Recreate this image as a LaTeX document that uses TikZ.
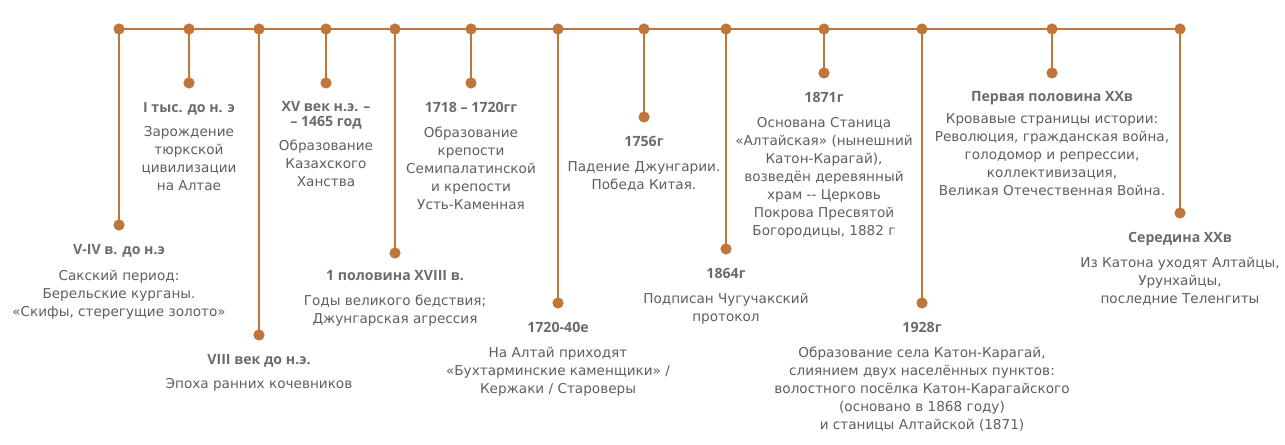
\documentclass[tikz,border=0pt]{standalone}
\usepackage{fontspec}
\setmainfont{DejaVu Sans}
\newfontfamily\titlefont{Open Sans}
\usepackage{tikz}
\usetikzlibrary{positioning}

\definecolor{linebrown}{HTML}{C0763A}
\definecolor{titlegray}{HTML}{6B6B6B}
\definecolor{bodygray}{HTML}{5E5E5E}

\begin{document}
\begin{tikzpicture}[
        x=0.75pt, y=-0.75pt,
        dot/.style={circle, fill=linebrown, inner sep=0pt, minimum size=8.4pt},
        stem/.style={linebrown, line width=2.1pt},
        title/.style={anchor=north, inner sep=0pt, align=center, text=titlegray,
            font=\titlefont\bfseries\fontsize{10.6}{11}\selectfont},
        body/.style={anchor=north, inner sep=0pt, align=center, text=bodygray,
            font=\fontsize{10.2}{13.5}\selectfont}
    ]

        % Fix the page size
        \useasboundingbox (0,0) rectangle (1285,445);

        % Points on the time line
        \node[dot] (t1) at (119, 29) {};
        \node[dot] (t2) at (189, 29) {};
        \node[dot] (t3) at (259, 29) {};
        \node[dot] (t4) at (326, 29) {};
        \node[dot] (t5) at (395, 29) {};
        \node[dot] (t6) at (471, 29) {};
        \node[dot] (t7) at (558, 29) {};
        \node[dot] (t8) at (644, 29) {};
        \node[dot] (t9) at (726, 29) {};
        \node[dot] (t10) at (824, 29) {};
        \node[dot] (t11) at (922, 29) {};
        \node[dot] (t12) at (1052, 29) {};
        \node[dot] (t13) at (1180, 29) {};

        % End points of the stems
        \node[dot] (e1) at (119, 225) {};
        \node[dot] (e2) at (189, 83) {};
        \node[dot] (e3) at (259, 335) {};
        \node[dot] (e4) at (326, 83) {};
        \node[dot] (e5) at (395, 253) {};
        \node[dot] (e6) at (471, 83) {};
        \node[dot] (e7) at (558, 303) {};
        \node[dot] (e8) at (644, 117) {};
        \node[dot] (e9) at (726, 249) {};
        \node[dot] (e10) at (824, 73) {};
        \node[dot] (e11) at (922, 303) {};
        \node[dot] (e12) at (1052, 73) {};
        \node[dot] (e13) at (1180, 213) {};

        % Main line and stems
        \draw[stem] (t1.center) -- (t13.center);
        \draw[stem] (t1.center) -- (e1.center);
        \draw[stem] (t2.center) -- (e2.center);
        \draw[stem] (t3.center) -- (e3.center);
        \draw[stem] (t4.center) -- (e4.center);
        \draw[stem] (t5.center) -- (e5.center);
        \draw[stem] (t6.center) -- (e6.center);
        \draw[stem] (t7.center) -- (e7.center);
        \draw[stem] (t8.center) -- (e8.center);
        \draw[stem] (t9.center) -- (e9.center);
        \draw[stem] (t10.center) -- (e10.center);
        \draw[stem] (t11.center) -- (e11.center);
        \draw[stem] (t12.center) -- (e12.center);
        \draw[stem] (t13.center) -- (e13.center);

        % Titles
        \node[title] (h1) at (119, 244) {V-IV в. до н.э};
        \node[title] (h2) at (189, 102) {I тыс. до н. э};
        \node[title] (h3) at (259, 354) {VIII век до н.э.};
        \node[title] (h4) at (326, 101) {XV век н.э. –\\– 1465 год};
        \node[title] (h5) at (395, 270) {1 половина XVIII в.};
        \node[title] (h6) at (471, 102) {1718 – 1720гг};
        \node[title] (h7) at (558, 322) {1720-40е};
        \node[title] (h8) at (644, 136) {1756г};
        \node[title] (h9) at (726, 268) {1864г};
        \node[title] (h10) at (824, 92) {1871г};
        \node[title] (h11) at (922, 322) {1928г};
        \node[title] (h12) at (1052, 91) {Первая половина ХХв};
        \node[title] (h13) at (1180, 232) {Середина ХХв};

        % Texts under the titles
        \node[body] (b1) at (119, 270) {Сакский период:\\Берельские курганы.\\«Скифы, стерегущие золото»};
        \node[body] (b2) at (189, 126) {Зарождение\\тюркской\\цивилизации\\на Алтае};
        \node[body] (b3) at (259, 378) {Эпоха ранних кочевников};
        \node[body] (b4) at (326, 140) {Образование\\Казахского\\Ханства};
        \node[body] (b5) at (395, 295) {Годы великого бедствия;\\Джунгарская агрессия};
        \node[body] (b6) at (471, 127) {Образование\\крепости\\Семипалатинской\\и крепости\\Усть-Каменная};
        \node[body] (b7) at (558, 347) {На Алтай приходят\\«Бухтарминские каменщики» /\\Кержаки / Староверы};
        \node[body] (b8) at (644, 161) {Падение Джунгарии.\\Победа Китая.};
        \node[body] (b9) at (726, 293) {Подписан Чугучакский\\протокол};
        \node[body] (b10) at (824, 117) {Основана Станица\\«Алтайская» (нынешний\\Катон-Карагай),\\возведён деревянный\\храм {-}{-} Церковь\\Покрова Пресвятой\\Богородицы, 1882 г};
        \node[body] (b11) at (922, 347) {Образование села Катон-Карагай,\\слиянием двух населённых пунктов:\\волостного посёлка Катон-Карагайского\\(основано в 1868 году)\\и станицы Алтайской (1871)};
        \node[body] (b12) at (1052, 113) {Кровавые страницы истории:\\Революция, гражданская война,\\голодомор и репрессии,\\коллективизация,\\Великая Отечественная Война.};
        \node[body] (b13) at (1180, 257) {Из Катона уходят Алтайцы,\\Урунхайцы,\\последние Теленгиты};

    \end{tikzpicture}
\end{document}
